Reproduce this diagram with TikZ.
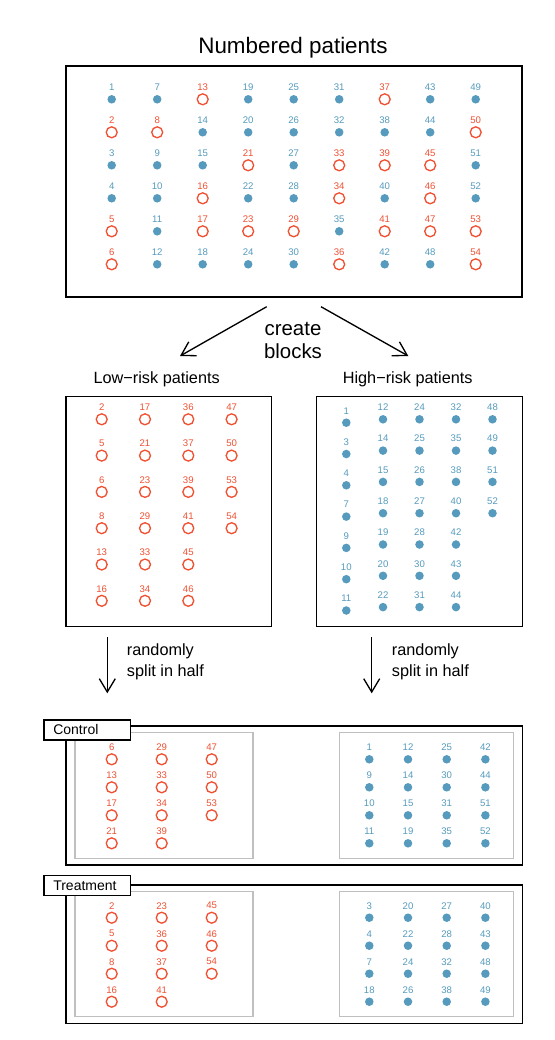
\documentclass[tikz,border=0pt]{standalone}
\usepackage{fontspec}
\setmainfont{Liberation Sans}
\usetikzlibrary{arrows.meta,fit}
\definecolor{oiB}{HTML}{569BBD}
\definecolor{oiR}{HTML}{F05133}
\foreach \nn in {2,5,6,8,13,16,17,21,23,29,33,34,36,37,39,41,45,46,47,50,53,54}{%
  \expandafter\gdef\csname low\nn\endcsname{}}
\tikzset{
  lowpt/.style={circle, draw=oiR, line width=1pt, minimum size=8.2pt, inner sep=0pt},
  highpt/.style={circle, fill=oiB, draw=none, minimum size=6.4pt, inner sep=0pt},
  numlab/.style={font=\fontsize{7.2}{8.6}\selectfont, inner sep=0pt},
  patpt/.code={\ifcsname low#1\endcsname\pgfkeysalso{lowpt}\else\pgfkeysalso{highpt}\fi},
  patlab/.code={\ifcsname low#1\endcsname\pgfkeysalso{numlab,text=oiR}\else\pgfkeysalso{numlab,text=oiB}\fi},
  bigbox/.style={draw=black, line width=1pt, inner sep=0pt},
  graybox/.style={draw=black!25, line width=1pt, inner sep=0pt},
  labbox/.style={draw=black, fill=white, line width=1pt, anchor=north west,
    minimum width=65pt, minimum height=15pt, inner xsep=7pt, inner ysep=0pt,
    text width=51pt, align=left, font=\fontsize{10.5}{12}\selectfont},
  arr/.style={line width=1pt, -{Straight Barb[length=10pt,width=12pt]}},
  ttl/.style={font=\fontsize{16.8}{20}\selectfont, inner sep=0pt},
  subttl/.style={font=\fontsize{12.2}{14}\selectfont, inner sep=0pt},
  steptxt/.style={font=\fontsize{12.2}{15.5}\selectfont, inner sep=0pt, align=left, anchor=west},
  cbtxt/.style={font=\fontsize{15.3}{17.3}\selectfont, inner sep=0pt, align=center}
}
\newcommand\ptgrid[6]{%
  \foreach \colist [count=\ci from 0] in {#6}{%
    \foreach \nn [count=\rj from 0] in \colist {%
      \pgfmathsetmacro\xx{#2+#3*\ci}%
      \pgfmathsetmacro\yy{#4+#5*\rj}%
      \node[patpt=\nn] (#1\nn) at (\xx,\yy) {};
      \node[patlab=\nn] (#1\nn lab) at (\xx,\yy-12) {\nn};
    }%
  }%
}
\begin{document}
\begin{tikzpicture}[x=0.75pt,y=-0.75pt]
\path[use as bounding box, fill=white] (0,0) rectangle (554,1040);

% ---- top box
\node[ttl] (title) at (293,48) {Numbered patients};
\node[bigbox, fit={(66,66)(522,297)}] (topbox) {};
\foreach \i in {0,...,8}{%
  \foreach \j in {0,...,5}{%
    \pgfmathtruncatemacro\nn{6*\i+\j+1}%
    \pgfmathsetmacro\xx{111.7+45.5*\i}%
    \pgfmathsetmacro\yy{99.3+33*\j}%
    \node[patpt=\nn] (t\nn) at (\xx,\yy) {};
    \node[patlab=\nn] (t\nn lab) at (\xx,\yy-12) {\nn};
  }%
}

% ---- create blocks
\coordinate (cbL0) at (266.7,306.7);
\coordinate (cbL1) at (180,356);
\coordinate (cbR0) at (321,306.7);
\coordinate (cbR1) at (408.3,356);
\draw[arr] (cbL0) -- (cbL1);
\draw[arr] (cbR0) -- (cbR1);
\node[cbtxt] (cbtext) at (293,340.5) {create\\blocks};

% ---- blocks
\node[subttl] (lowttl) at (156.7,379) {Low−risk patients};
\node[subttl] (highttl) at (407.7,379) {High−risk patients};
\node[bigbox, fit={(66,396.7)(271.3,626.7)}] (lowbox) {};
\node[bigbox, fit={(316.7,396.7)(522.3,626.7)}] (highbox) {};
\ptgrid{l}{101.7}{43.3}{419.3}{36.3}{{2,5,6,8,13,16},{17,21,23,29,33,34},{36,37,39,41,45,46},{47,50,53,54}}
\ptgrid{h}{346.3}{0}{422.7}{31.3}{{1,3,4,7,9,10,11}}
\ptgrid{h}{383}{36.5}{419.3}{31.3}{{12,14,15,18,19,20,22},{24,25,26,27,28,30,31},{32,35,38,40,42,43,44},{48,49,51,52}}

% ---- randomly split
\coordinate (rsL0) at (107.3,637);
\coordinate (rsL1) at (107.3,693.3);
\coordinate (rsR0) at (371.7,637);
\coordinate (rsR1) at (371.7,693.3);
\draw[arr] (rsL0) -- (rsL1);
\draw[arr] (rsR0) -- (rsR1);
\node[steptxt] (rsLtxt) at (126.7,662) {randomly\\split in half};
\node[steptxt] (rsRtxt) at (391.7,662) {randomly\\split in half};

% ---- control
\node[bigbox, fit={(66,726)(522.3,865)}] (ctrlbox) {};
\node[graybox, fit={(75,732.7)(253,858.3)}] (ctrllow) {};
\node[graybox, fit={(339.7,732.7)(513.3,858.3)}] (ctrlhigh) {};
\ptgrid{c}{111.7}{50}{759.3}{28}{{6,13,17,21},{29,33,34,39},{47,50,53}}
\ptgrid{c}{369.3}{38.7}{759.3}{28}{{1,9,10,11},{12,14,15,19},{25,30,31,35},{42,44,51,52}}
\node[labbox, minimum height=15pt] (ctrllab) at (43.3,719.3) {Control};

% ---- treatment
\node[bigbox, fit={(66,885)(522.3,1023.3)}] (trtbox) {};
\node[graybox, fit={(75,891.7)(253,1016.7)}] (trtlow) {};
\node[graybox, fit={(339.7,891.7)(513.3,1016.7)}] (trthigh) {};
\ptgrid{r}{111.7}{50}{917.7}{28}{{2,5,8,16},{23,36,37,41},{45,46,54}}
\ptgrid{r}{369.3}{38.7}{917.7}{28}{{3,4,7,18},{20,22,24,26},{27,28,32,38},{40,43,48,49}}
\node[labbox, minimum height=15.2pt] (trtlab) at (43.3,874.7) {Treatment};
\end{tikzpicture}
\end{document}
